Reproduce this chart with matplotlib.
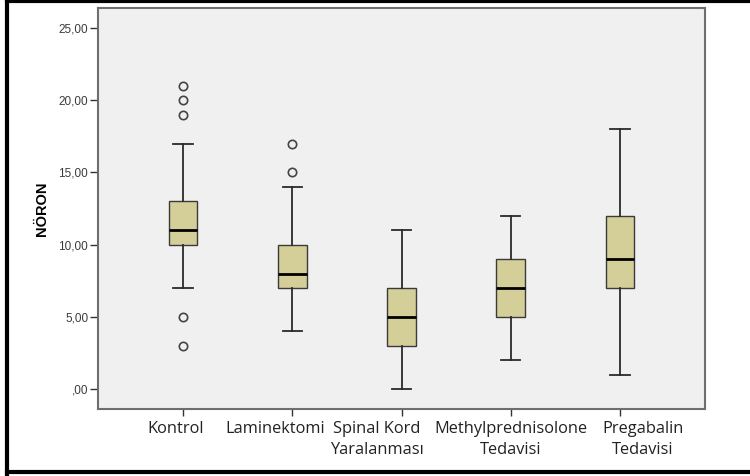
import matplotlib
matplotlib.use("Agg")
import matplotlib.pyplot as plt
from matplotlib.lines import Line2D
from matplotlib.transforms import ScaledTranslation, blended_transform_factory

# group summaries (quartiles, whiskers, outliers)
groups = ["Kontrol", "Laminektomi", "Spinal Kord\nYaralanması",
          "Methylprednisolone\nTedavisi", "Pregabalin\nTedavisi"]
q1 = [10, 7, 3, 5, 7]
median = [11, 8, 5, 7, 9]
q3 = [13, 10, 7, 9, 12]
whislo = [7, 4, 0, 2, 1]
whishi = [17, 14, 11, 12, 18]
outliers = [[21, 20, 19, 5, 3], [17, 15], [], [], []]

yticks = [0, 5, 10, 15, 20, 25]
ytick_labels = [",00", "5,00", "10,00", "15,00", "20,00", "25,00"]

# hand-placed category labels: horizontal shift in pixels from the tick
label_shift = [-8, -17, -25, 0, 23]

stats = []
for i, g in enumerate(groups):
    stats.append(dict(label=g, q1=q1[i], med=median[i], q3=q3[i],
                      whislo=whislo[i], whishi=whishi[i], fliers=outliers[i]))

fig = plt.figure(figsize=(7.5, 4.76), dpi=100)
ax = fig.add_axes([98 / 750, 1 - 409 / 476, 607 / 750, 401 / 476])
ax.set_facecolor("#f0f0f0")

ax.bxp(stats, positions=range(1, 6), widths=0.26, patch_artist=True,
       boxprops=dict(facecolor="#d4cf98", edgecolor="#3a3a3a", linewidth=1.0),
       medianprops=dict(color="black", linewidth=2.0),
       whiskerprops=dict(color="#2a2a2a", linewidth=1.3),
       capprops=dict(color="#2a2a2a", linewidth=1.3),
       capwidths=0.18,
       flierprops=dict(marker="o", markerfacecolor="none",
                       markeredgecolor="#444444", markersize=6,
                       markeredgewidth=1.2))

ax.set_xlim(0.22, 5.78)
ax.set_ylim(-1.39, 26.4)
ax.set_yticks(yticks)
ax.set_yticklabels(ytick_labels, fontfamily="Liberation Sans", fontsize=8.5,
                   color="#3c3c3c")
ax.set_xticks(range(1, 6))
ax.set_xticklabels([])
ax.tick_params(axis="y", length=5.5, width=1, color="#333333", pad=1.5)
ax.tick_params(axis="x", length=5, width=1, color="#333333")
for s in ax.spines.values():
    s.set_color("#6e6e6e")
    s.set_linewidth(1.5)

trans = blended_transform_factory(ax.transData, ax.transAxes)
for i, g in enumerate(groups):
    off = ScaledTranslation(label_shift[i] / 100, -12 / 100, fig.dpi_scale_trans)
    ax.text(i + 1, 0, g, transform=trans + off, ha="center", va="top",
            fontfamily="Open Sans", fontsize=11.8, color="#222222",
            linespacing=1.45)

ax.set_ylabel("NÖRON", fontfamily="Liberation Sans", fontsize=10.5,
              fontweight="bold", labelpad=7)

# page frame on left, top and bottom
w, h = 750, 476
for xs, ys in [((6.5 / w, 6.5 / w), (1 / h, 1)),
               ((6.5 / w, 1), (1 - 1 / h, 1 - 1 / h)),
               ((6.5 / w, 1), (4 / h, 4 / h))]:
    fig.add_artist(Line2D(xs, ys, color="black", linewidth=3,
                          transform=fig.transFigure))

fig.savefig("out.png", dpi=100)
